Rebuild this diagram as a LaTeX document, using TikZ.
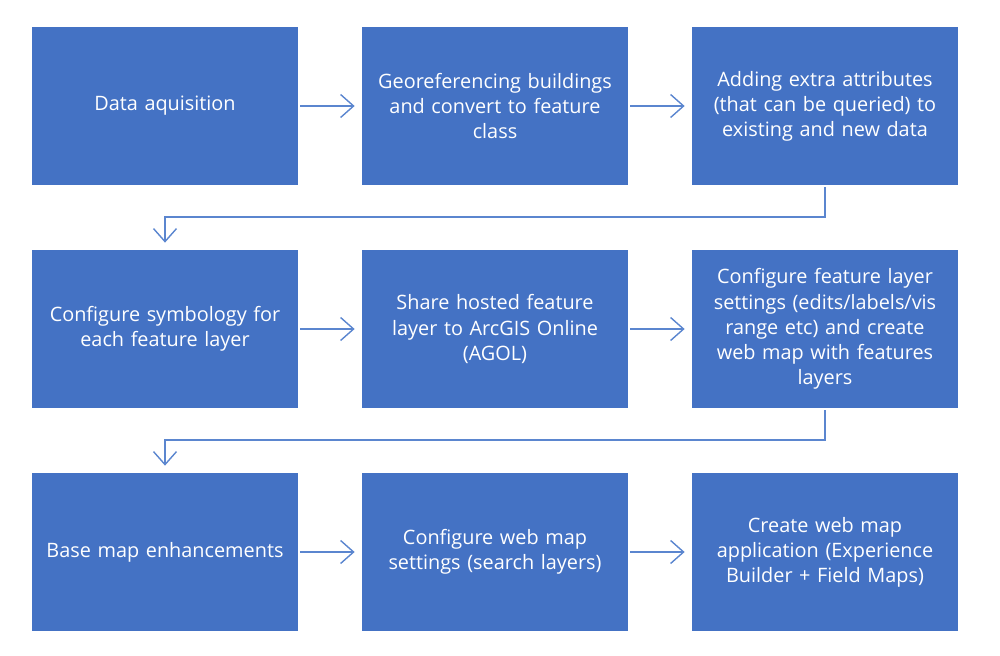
\documentclass[tikz,border=0pt]{standalone}
\usepackage{fontspec}
\setmainfont{Open Sans}
\usepackage{tikz}
\usetikzlibrary{arrows.meta}
\definecolor{boxblue}{HTML}{4472C4}
\definecolor{lineblue}{HTML}{5B86CF}
\tikzset{
  stepbox/.style={draw=none,fill=boxblue,text=white,minimum width=5.32cm,
    minimum height=3.16cm,text width=5.2cm,align=center,inner sep=0pt,
    font=\fontsize{11.3}{14.3}\selectfont},
  flow/.style={draw=lineblue,line width=0.8pt,
    -{Straight Barb[length=2.6mm,width=4.6mm,line width=0.8pt]}}
}
\begin{document}
\begin{tikzpicture}
  \useasboundingbox (0,0) rectangle (20,13.1);
  % instantiate nodes
  \node[stepbox] (AL) at (3.3,10.98) {Data aquisition};
  \node[stepbox] (AM) at (9.9,10.98) {Georeferencing buildings\\ and convert to feature\\ class};
  \node[stepbox] (AR) at (16.5,10.98) {Adding extra attributes\\ (that can be queried) to\\ existing and new data};
  \node[stepbox] (BL) at (3.3,6.52) {Configure symbology for\\ each feature layer};
  \node[stepbox] (BM) at (9.9,6.52) {Share hosted feature\\ layer to ArcGIS Online\\ (AGOL)};
  \node[stepbox] (BR) at (16.5,6.52) {Configure feature layer\\ settings (edits/labels/vis\\ range etc) and create\\ web map with features\\ layers};
  \node[stepbox] (CL) at (3.3,2.06) {Base map enhancements};
  \node[stepbox] (CM) at (9.9,2.06) {Configure web map\\ settings (search layers)};
  \node[stepbox] (CR) at (16.5,2.06) {Create web map\\ application (Experience\\ Builder + Field Maps)};
  \coordinate (T1) at (16.5,8.76);
  \coordinate (T2) at (16.5,4.3);
  % horizontal connectors
  \draw[flow,shorten <=0.04cm,shorten >=0.14cm] (AL) -- (AM);
  \draw[flow,shorten <=0.04cm,shorten >=0.14cm] (AM) -- (AR);
  \draw[flow,shorten <=0.04cm,shorten >=0.14cm] (BL) -- (BM);
  \draw[flow,shorten <=0.04cm,shorten >=0.14cm] (BM) -- (BR);
  \draw[flow,shorten <=0.04cm,shorten >=0.14cm] (CL) -- (CM);
  \draw[flow,shorten <=0.04cm,shorten >=0.14cm] (CM) -- (CR);
  % row to row
  \draw[flow,shorten <=0.04cm,shorten >=0.14cm] (AR.south) -- (T1) -| (BL.north);
  \draw[flow,shorten <=0.04cm,shorten >=0.14cm] (BR.south) -- (T2) -| (CL.north);
\end{tikzpicture}
\end{document}
